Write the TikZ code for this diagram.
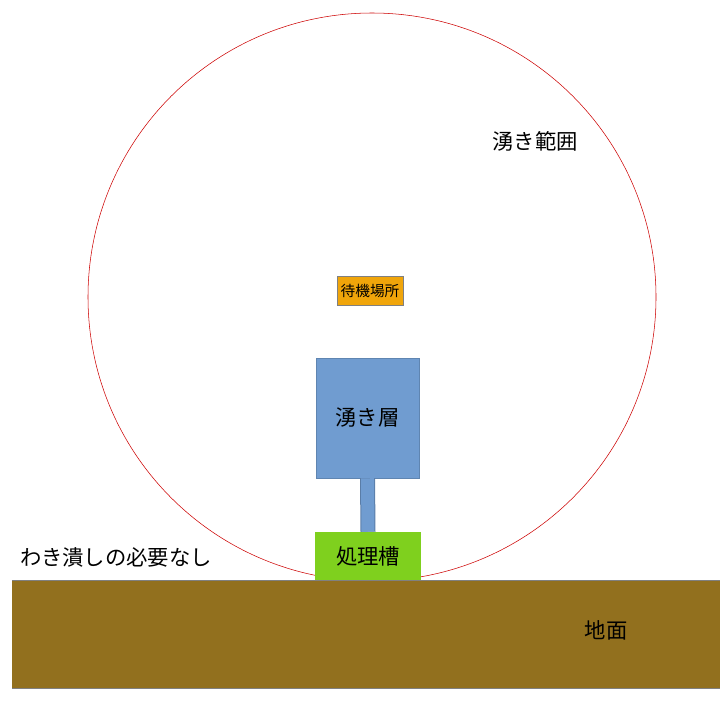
\documentclass[tikz,border=0pt]{standalone}
\usepackage{fontspec}
\setmainfont{Noto Sans CJK JP}
\definecolor{soil}{RGB}{146,112,30}
\definecolor{layerblue}{RGB}{112,156,208}
\definecolor{tankgreen}{RGB}{127,208,30}
\definecolor{waitorange}{RGB}{240,165,10}
\tikzset{
  box/.style={inner sep=0pt, font=\fontsize{16}{18}\selectfont},
}
\begin{document}
\begin{tikzpicture}[x=0.75pt,y=-0.75pt]
            \useasboundingbox (0, 0) rectangle (728, 700);

            \draw [red!80!black,thin] (372, 297) circle (284);
            \node (range) at (535, 141) [font=\fontsize{16}{18}\selectfont] {湧き範囲};

            \fill [soil] (12, 580) rectangle (720, 688);
            \draw [gray,thin] (12, 580) -- (720, 580) (12, 688) -- (720, 688);
            \node (ground) at (606, 630) [font=\fontsize{16}{18}\selectfont] {地面};

            \node (wait) at (370, 291) [box,fill=waitorange,draw=gray,minimum width=49.5pt,minimum height=21.75pt,font=\fontsize{11}{12}\selectfont] {待機場所};
            \node (layer) at (367.5, 418) [box,fill=layerblue,draw=layerblue!85!black,minimum width=77.25pt,minimum height=90pt] {湧き層};
            \node (tank) at (368, 556) [box,fill=tankgreen,minimum width=79.5pt,minimum height=36pt] {処理槽};
            \draw [layerblue!80!black,line width=11.25pt] (layer.south) -- (tank.north);
            \draw [layerblue,line width=9.75pt] (layer.south) -- (tank.north);

            \node (note) at (116, 557) [font=\fontsize{16}{18}\selectfont] {わき潰しの必要なし};
          \end{tikzpicture}
\end{document}
